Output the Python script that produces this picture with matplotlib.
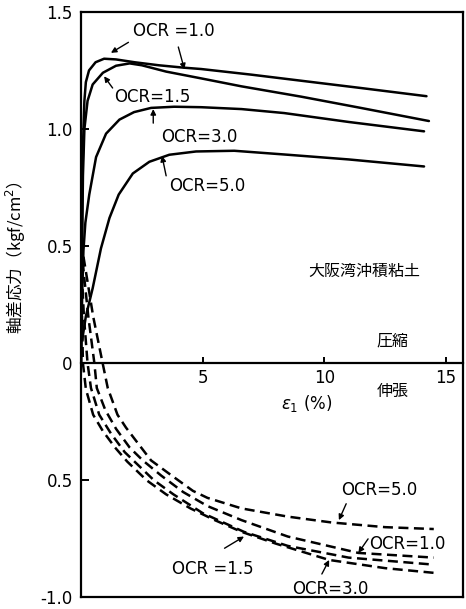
import matplotlib.pyplot as plt

plt.rcParams['font.family'] = ['DejaVu Sans', 'Noto Sans CJK JP']

# compression curves (solid), strain % vs axial deviator stress
comp_x_1 = [0, 0.03, 0.06, 0.1, 0.14, 0.2, 0.33, 0.6, 0.95, 1.44, 2.2, 3.2, 4.2, 4.94, 7.0, 9.05, 11.5, 14.2]
comp_y_1 = [0, 0.45, 0.8, 1.0, 1.12, 1.2, 1.25, 1.285, 1.30, 1.297, 1.285, 1.272, 1.262, 1.256, 1.232, 1.206, 1.175, 1.14]
comp_x_15 = [0, 0.04, 0.08, 0.14, 0.27, 0.48, 0.9, 1.44, 2.0, 2.5, 3.5, 4.94, 6.6, 9.05, 11.5, 14.3]
comp_y_15 = [0, 0.45, 0.8, 1.0, 1.12, 1.19, 1.24, 1.27, 1.28, 1.272, 1.245, 1.216, 1.182, 1.138, 1.09, 1.034]
comp_x_3 = [0, 0.05, 0.1, 0.18, 0.34, 0.62, 1.03, 1.58, 2.18, 2.88, 3.83, 4.94, 6.6, 8.35, 11.0, 14.1]
comp_y_3 = [0, 0.3, 0.48, 0.6, 0.72, 0.88, 0.98, 1.04, 1.072, 1.09, 1.095, 1.093, 1.085, 1.068, 1.03, 0.99]
comp_x_5 = [0.05, 0.2, 0.48, 0.82, 1.17, 1.55, 2.13, 2.81, 3.63, 4.73, 6.3, 8.5, 11.0, 14.1]
comp_y_5 = [0.1, 0.2, 0.32, 0.49, 0.62, 0.72, 0.81, 0.86, 0.89, 0.904, 0.907, 0.89, 0.87, 0.84]

# extension curves (dashed)
ext_x_3 = [0, 0.04, 0.08, 0.2, 0.5, 0.9, 1.4, 1.9, 2.7, 3.5, 4.5, 5.5, 6.6, 8.0, 10.2, 12.5, 14.5]
ext_y_3 = [0.40, 0.2, 0.0, -0.11, -0.22, -0.29, -0.36, -0.42, -0.50, -0.56, -0.62, -0.67, -0.72, -0.77, -0.84, -0.875, -0.895]
ext_x_15 = [0, 0.12, 0.27, 0.41, 0.75, 1.23, 1.8, 2.3, 3.0, 3.8, 5.0, 6.7, 8.5, 11.0, 14.5]
ext_y_15 = [0.45, 0.2, 0.0, -0.106, -0.22, -0.3, -0.38, -0.43, -0.5, -0.56, -0.64, -0.72, -0.78, -0.83, -0.86]
ext_x_1 = [0, 0.3, 0.55, 0.65, 1.0, 1.44, 2.0, 2.54, 3.3, 4.2, 5.2, 6.6, 8.5, 11.4, 14.5]
ext_y_1 = [0.5, 0.2, 0.0, -0.106, -0.2, -0.28, -0.36, -0.415, -0.48, -0.55, -0.61, -0.67, -0.74, -0.81, -0.83]
ext_x_5 = [0, 0.5, 0.89, 1.1, 1.5, 1.85, 2.4, 2.88, 3.6, 4.6, 5.2, 6.6, 8.5, 10.3, 12.5, 14.5]
ext_y_5 = [0.52, 0.2, 0.0, -0.106, -0.22, -0.275, -0.35, -0.415, -0.47, -0.545, -0.575, -0.62, -0.655, -0.68, -0.70, -0.708]

yticks = [1.5, 1.0, 0.5, 0, -0.5, -1.0]
yticklabels = ['1.5', '1.0', '0.5', '0', '0.5', '-1.0']
xticks = [5, 10, 15]
xticklabels = ['5', '10', '15']

fig = plt.figure(figsize=(4.66, 6.09), dpi=100)
ax = fig.add_axes([0.1738, 0.019, 0.8197, 0.9615])

lw = 1.8
for xs, ys in [(comp_x_1, comp_y_1), (comp_x_15, comp_y_15), (comp_x_3, comp_y_3), (comp_x_5, comp_y_5)]:
    ax.plot(xs, ys, color='black', lw=lw, solid_capstyle='round')
for xs, ys in [(ext_x_3, ext_y_3), (ext_x_15, ext_y_15), (ext_x_1, ext_y_1), (ext_x_5, ext_y_5)]:
    ax.plot(xs, ys, color='black', lw=lw, dashes=(4, 2.2))

ax.set_xlim(0, 15.7)
ax.set_ylim(-1.0, 1.5)

# x axis sits on zero line, frame drawn all round
ax.spines['bottom'].set_position(('data', 0))
for s in ['left', 'right', 'top', 'bottom']:
    ax.spines[s].set_linewidth(1.6)
ax.plot([0, 1], [0, 0], transform=ax.transAxes, color='black', lw=1.6, clip_on=False)

ax.set_xticks(xticks)
ax.set_xticklabels(xticklabels)
ax.set_yticks(yticks)
ax.set_yticklabels(yticklabels)
ax.tick_params(axis='both', direction='in', labelsize=12, width=1.4)
ax.tick_params(axis='x', length=4, pad=4)
ax.tick_params(axis='y', length=6, pad=6)

ax.set_ylabel('軸差応力（kgf/cm$^2$）', fontsize=12, family=['Noto Sans CJK JP', 'DejaVu Sans'])
ax.yaxis.set_label_coords(-0.14, 0.58)

fs = 12
arrow = dict(arrowstyle='-|>', color='black', lw=1.0, mutation_scale=8, shrinkA=0, shrinkB=0)
ax.text(3.8, 1.42, 'OCR =1.0', fontsize=fs, ha='center', va='center')
ax.annotate('', xy=(1.23, 1.325), xytext=(1.95, 1.37), arrowprops=arrow)
ax.annotate('', xy=(4.25, 1.255), xytext=(4.0, 1.35), arrowprops=arrow)
ax.text(2.95, 1.135, 'OCR=1.5', fontsize=fs, ha='center', va='center')
ax.annotate('', xy=(0.95, 1.225), xytext=(1.3, 1.175), arrowprops=arrow)
ax.text(4.85, 0.965, 'OCR=3.0', fontsize=fs, ha='center', va='center')
ax.annotate('', xy=(2.97, 1.085), xytext=(2.97, 1.025), arrowprops=arrow)
ax.text(5.2, 0.755, 'OCR=5.0', fontsize=fs, ha='center', va='center')
ax.annotate('', xy=(3.33, 0.885), xytext=(3.5, 0.8), arrowprops=arrow)

ax.text(12.25, -0.54, 'OCR=5.0', fontsize=fs, ha='center', va='center')
ax.annotate('', xy=(10.6, -0.67), xytext=(10.9, -0.6), arrowprops=arrow)
ax.text(13.4, -0.77, 'OCR=1.0', fontsize=fs, ha='center', va='center')
ax.annotate('', xy=(11.4, -0.81), xytext=(11.8, -0.75), arrowprops=arrow)
ax.text(5.4, -0.88, 'OCR =1.5', fontsize=fs, ha='center', va='center')
ax.annotate('', xy=(6.7, -0.74), xytext=(5.9, -0.79), arrowprops=arrow)
ax.text(10.25, -0.965, 'OCR=3.0', fontsize=fs, ha='center', va='center')
ax.annotate('', xy=(10.2, -0.84), xytext=(9.9, -0.9), arrowprops=arrow)

cjk = ['Noto Sans CJK JP', 'DejaVu Sans']
ax.text(11.65, 0.39, '大阪湾沖積粘土', fontsize=11.5, ha='center', va='center', family=cjk)
ax.text(12.8, 0.093, '圧縮', fontsize=11.5, ha='center', va='center', family=cjk)
ax.text(12.8, -0.12, '伸張', fontsize=11.5, ha='center', va='center', family=cjk)
ax.text(9.26, -0.17, r'$\epsilon_1$ (%)', fontsize=12, ha='center', va='center')

fig.savefig('out.png', dpi=100)
